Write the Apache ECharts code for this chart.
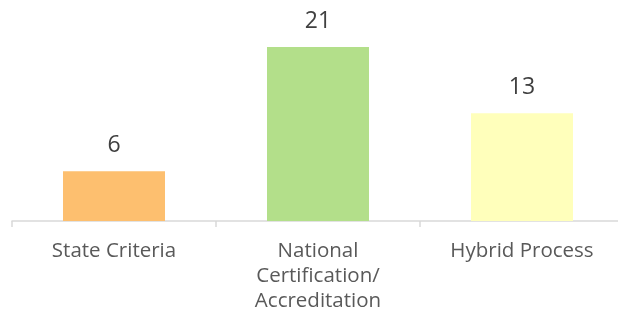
<!DOCTYPE html>
<html>
<head>
<meta charset="utf-8">
<script src="https://cdn.jsdelivr.net/npm/echarts@6/dist/echarts.min.js"></script>
<style>
  html, body { margin: 0; padding: 0; background: #fff; }
  #chart { width: 618px; height: 312px; }
</style>
</head>
<body>
<div id="chart"></div>
<script>
// data
const categories = ['State Criteria', 'National\nCertification/\nAccreditation', 'Hybrid Process']
const counts = [6, 21, 13]
const barColors = ['#FDBF6F', '#B3DF8A', '#FFFFBB']

const chart = echarts.init(document.getElementById('chart'))

chart.setOption({
    animation: false,
    grid: { left: 12, width: 612, top: 14, bottom: 91, containLabel: false, outerBoundsMode: 'none' },
    xAxis: {
        type: 'category',
        data: categories,
        axisLine: { lineStyle: { color: '#D9D9D9', width: 1.5 } },
        axisTick: { show: true, length: 6, lineStyle: { color: '#D9D9D9', width: 1.5 } },
        axisLabel: {
            color: '#595959',
            fontFamily: 'Open Sans',
            fontSize: 20.5,
            lineHeight: 25,
            margin: 18
        }
    },
    yAxis: {
        type: 'value',
        min: 0,
        max: 25,
        show: false
    },
    series: [{
        type: 'bar',
        barWidth: '50%',
        data: counts.map((v, i) => ({ value: v, itemStyle: { color: barColors[i] } })),
        label: {
            show: true,
            position: 'top',
            distance: 14,
            color: '#404040',
            fontFamily: 'Open Sans',
            fontSize: 23
        }
    }]
})
</script>
</body>
</html>
